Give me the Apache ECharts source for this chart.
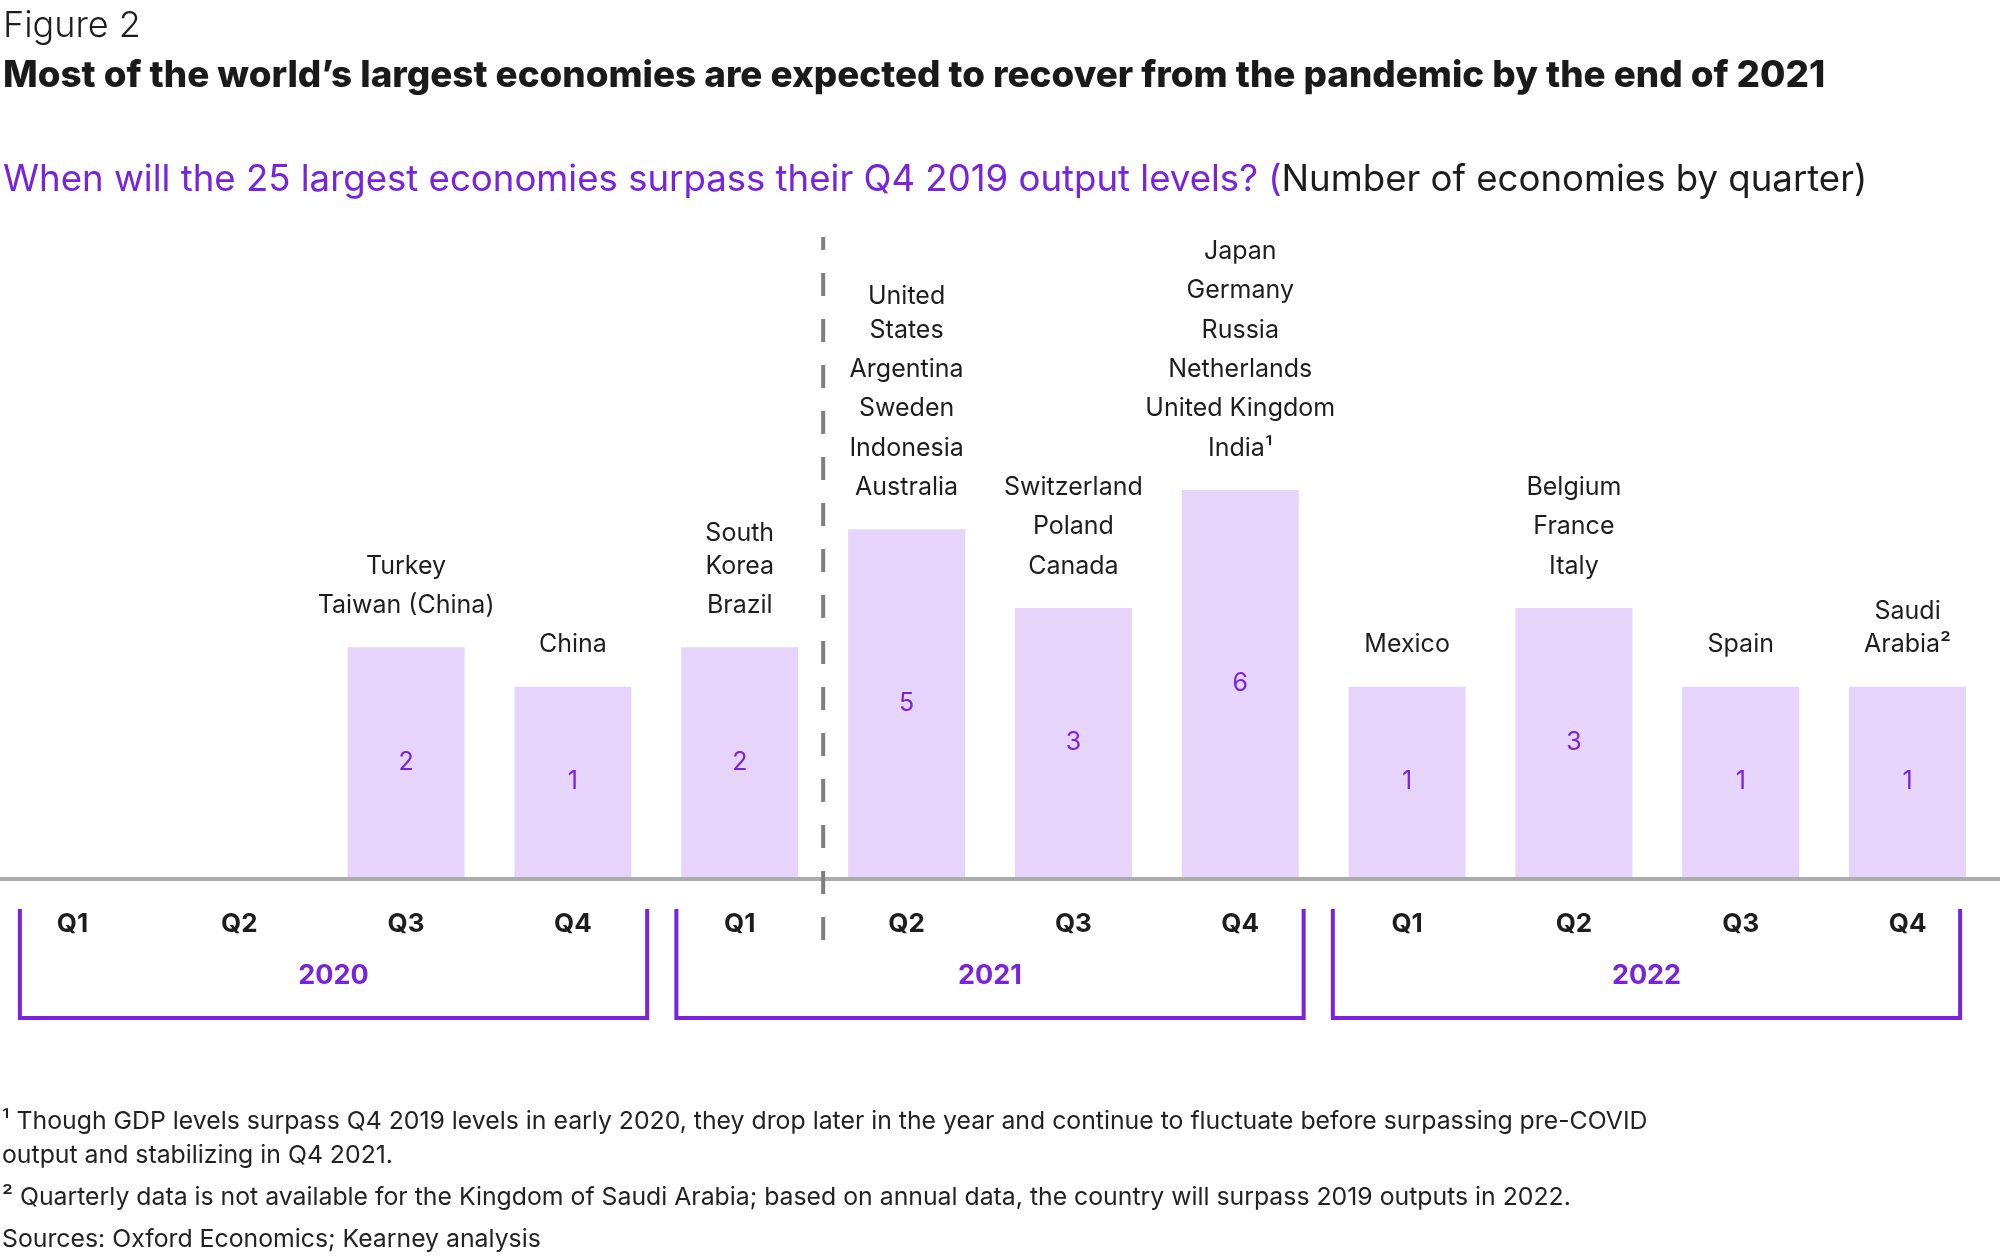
<!DOCTYPE html>
<html>
<head>
<meta charset="utf-8">
<script src="https://cdn.jsdelivr.net/npm/echarts/dist/echarts.min.js"></script>
<style>
html,body{margin:0;padding:0;background:#fff;}
#c{width:2000px;height:1257px;}
</style>
</head>
<body>
<div id="c"></div>
<script>
// ---------- data ----------
const periods = ['Q1 2020','Q2 2020','Q3 2020','Q4 2020','Q1 2021','Q2 2021','Q3 2021','Q4 2021','Q1 2022','Q2 2022','Q3 2022','Q4 2022'];
const years = ['2020','2021','2022'];
const counts = [0, 0, 2, 1, 2, 5, 3, 6, 1, 3, 1, 1];
const economies = [
  [],
  [],
  ['Turkey', 'Taiwan (China)'],
  ['China'],
  ['South\nKorea', 'Brazil'],
  ['United\nStates', 'Argentina', 'Sweden', 'Indonesia', 'Australia'],
  ['Switzerland', 'Poland', 'Canada'],
  ['Japan', 'Germany', 'Russia', 'Netherlands', 'United Kingdom', 'India¹'],
  ['Mexico'],
  ['Belgium', 'France', 'Italy'],
  ['Spain'],
  ['Saudi\nArabia²']
];
const footnotes = [
  '¹ Though GDP levels surpass Q4 2019 levels in early 2020, they drop later in the year and continue to fluctuate before surpassing pre-COVID',
  'output and stabilizing in Q4 2021.',
  '² Quarterly data is not available for the Kingdom of Saudi Arabia; based on annual data, the country will surpass 2019 outputs in 2022.',
  'Sources: Oxford Economics; Kearney analysis'
];
const BAR_FLOOR = -3.84;   // visual floor of the value axis (bars start here)
const DIVIDER_AFTER = 4;   // dashed divider between these categories (index 4 | 5)

// ---------- styles ----------
const FONT = 'Inter';
const PURPLE = '#7823DC';
const BAR = '#E7D4FB';
const INK = '#1d1d1d';

const chart = echarts.init(document.getElementById('c'), null, {renderer: 'canvas'});

const barData = counts.map(v => v > 0 ? v : '-');

function nameLabel(p) {
  return economies[p.dataIndex].map(n => {
    const parts = n.split('\n');
    return parts.map((s, i) => '{' + (i < parts.length - 1 ? 'w' : 'n') + '|' + s + '}').join('\n');
  }).join('\n');
}

chart.setOption({
  animation: false,
  backgroundColor: '#fff',
  title: [
    {left: 3, top: 6, padding: 0, text: 'Figure 2',
     textStyle: {fontFamily: FONT, fontWeight: 300, fontSize: 36, lineHeight: 40, color: INK}},
    {left: 3, top: 54, padding: 0, text: 'Most of the world\u2019s largest economies are expected to recover from the pandemic by the end of 2021',
     textStyle: {fontFamily: FONT, fontWeight: 800, fontSize: 36.8, lineHeight: 44, color: '#1a1a1a'}},
    {left: 3, top: 158, padding: 0,
     text: '{p|When will the 25 largest economies surpass their Q4 2019 output levels? (}{k|Number of economies by quarter)}',
     textStyle: {fontFamily: FONT, fontWeight: 400, fontSize: 36.6, lineHeight: 44,
       rich: {
         p: {fontFamily: FONT, fontWeight: 400, fontSize: 36.6, lineHeight: 44, color: PURPLE},
         k: {fontFamily: FONT, fontWeight: 400, fontSize: 36.6, lineHeight: 44, color: INK}
       }}}
  ],
  grid: {left: -11, right: 9, top: 490, bottom: 380, containLabel: false, outerBoundsMode: 'none'},
  xAxis: {
    type: 'category',
    data: periods,
    axisLine: {show: false},
    axisTick: {show: false},
    splitLine: {show: false},
    axisLabel: {
      margin: 34,
      formatter: v => v.split(' ')[0],
      fontFamily: FONT, fontWeight: 700, fontSize: 26, color: INK
    }
  },
  yAxis: {
    type: 'value',
    min: BAR_FLOOR,
    max: 6,
    startValue: BAR_FLOOR,
    show: false,
    splitLine: {show: false}
  },
  series: [
    {
      type: 'bar',
      data: barData,
      barWidth: 117,
      barGap: '-100%',
      silent: true,
      itemStyle: {color: BAR},
      label: {show: true, position: 'inside', fontFamily: FONT, fontSize: 25, color: PURPLE}
    },
    {
      type: 'bar',
      data: barData,
      barWidth: 117,
      barGap: '-100%',
      silent: true,
      itemStyle: {color: 'rgba(0,0,0,0)'},
      label: {
        show: true, position: 'top', distance: 22,
        formatter: nameLabel,
        align: 'center',
        rich: {
          n: {fontFamily: FONT, fontSize: 25, lineHeight: 39.4, color: INK, align: 'center'},
          w: {fontFamily: FONT, fontSize: 25, lineHeight: 27, color: INK, align: 'center'}
        }
      }
    }
  ]
});

// ---------- annotations computed from the axes ----------
const px = i => chart.convertToPixel({xAxisIndex: 0}, i);
const yFloor = chart.convertToPixel({yAxisIndex: 0}, BAR_FLOOR);
const band = px(1) - px(0);
const elements = [];

// baseline
elements.push({type: 'line', silent: true, z: 10,
  shape: {x1: 0, y1: yFloor + 2, x2: 2000, y2: yFloor + 2},
  style: {stroke: '#ABABAB', lineWidth: 4}});

// dashed divider
const xd = (px(DIVIDER_AFTER) + px(DIVIDER_AFTER + 1)) / 2;
elements.push({type: 'line', silent: true, z: 11,
  shape: {x1: xd, y1: 237, x2: xd, y2: 942},
  style: {stroke: '#7f7f7f', lineWidth: 4, lineDash: [23, 23], lineDashOffset: 10}});

// year brackets (evenly spaced around the middle year)
const midCenter = (px(4) + px(7)) / 2;
years.forEach((y, k) => {
  const c = midCenter + (k - 1) * 3.935 * band;
  const half = 1.88 * band;
  elements.push({type: 'polyline', silent: true,
    shape: {points: [[c - half, 909], [c - half, 1018], [c + half, 1018], [c + half, 909]]},
    style: {stroke: PURPLE, lineWidth: 4, fill: null}});
  elements.push({type: 'text', silent: true,
    style: {x: c, y: 976, text: y, textAlign: 'center', textVerticalAlign: 'middle',
      font: '700 27px ' + FONT, fill: PURPLE}});
});

// footnotes
const footY = [1122, 1156, 1198, 1240];
footnotes.forEach((t, i) => {
  elements.push({type: 'text', silent: true,
    style: {x: 2, y: footY[i], text: t, textAlign: 'left', textVerticalAlign: 'middle',
      font: '400 24.8px ' + FONT, fill: '#222'}});
});

chart.setOption({graphic: {elements: elements}});
</script>
</body>
</html>
